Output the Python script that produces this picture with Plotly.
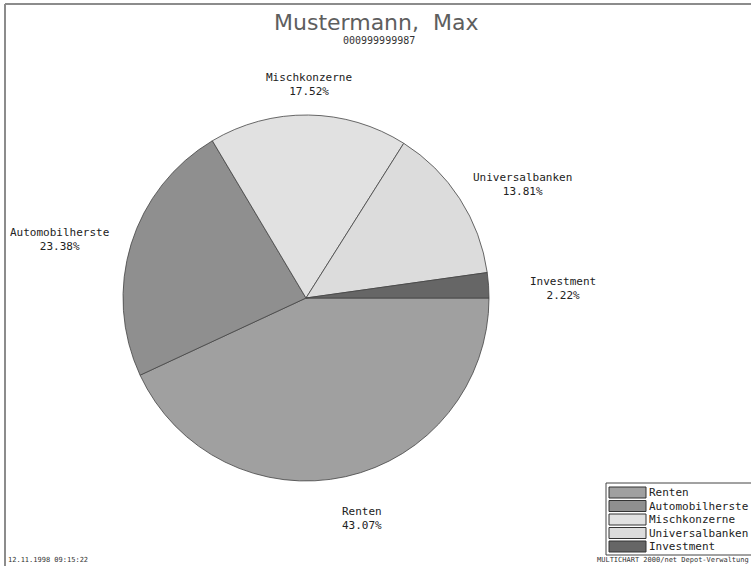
import math
import plotly.graph_objects as go

# ---------------------------------------------
# Data
# ---------------------------------------------
labels = ["Renten", "Automobilherste", "Mischkonzerne", "Universalbanken", "Investment"]
percents = [43.07, 23.38, 17.52, 13.81, 2.22]
colors = ["#a0a0a0", "#8f8f8f", "#e1e1e1", "#dcdcdc", "#666666"]

title_text = "Mustermann,  Max"
subtitle_text = "000999999987"
timestamp_text = "12.11.1998 09:15:22"
footer_text = "MULTICHART 2000/net Depot-Verwaltung"

W, H = 751, 566
cx, cy, r = 306, 298, 183
mono = "DejaVu Sans Mono"


def px(x):
    return x / W


def py(y):
    return 1 - y / H


fig = go.Figure()

fig.add_trace(
    go.Pie(
        labels=labels,
        values=percents,
        sort=False,
        direction="clockwise",
        rotation=90,
        textinfo="none",
        hoverinfo="label+percent",
        showlegend=False,
        marker=dict(colors=colors, line=dict(color="#444444", width=0.8)),
        domain=dict(x=[px(cx - r), px(cx + r)], y=[py(cy + r), py(cy - r)]),
    )
)

# -----------------------------------------
# slice labels on an ellipse at each mid angle
# -----------------------------------------
annotations = []
shapes = []
total = sum(percents)
start = 0.0
for lab, val in zip(labels, percents):
    mid = math.radians((start + val / 2) / total * 360)
    start += val
    lx = cx + 258 * math.cos(mid)
    ly = cy + 6 + 220 * math.sin(mid)
    annotations.append(
        dict(
            x=px(lx), y=py(ly), xref="paper", yref="paper",
            text=f"{lab}<br>{val:.2f}%", showarrow=False,
            font=dict(family=mono, size=11, color="#222222"),
            xanchor="center", yanchor="middle",
        )
    )

# -----------------------------------------
# legend box drawn by hand (wide swatches, tight rows)
# -----------------------------------------
leg_x, leg_y, row = 606, 483, 13.5
shapes.append(dict(type="rect", xref="paper", yref="paper",
                   x0=px(leg_x), x1=px(W + 10), y0=py(leg_y + 72), y1=py(leg_y),
                   line=dict(color="#444444", width=1), fillcolor="white"))
for i, (lab, col) in enumerate(zip(labels, colors)):
    top = leg_y + 4 + i * row
    shapes.append(dict(type="rect", xref="paper", yref="paper",
                       x0=px(leg_x + 3), x1=px(leg_x + 40), y0=py(top + 11), y1=py(top),
                       line=dict(color="#333333", width=1), fillcolor=col))
    annotations.append(dict(x=px(leg_x + 41), y=py(top + 5.5), xref="paper", yref="paper",
                            text=lab, showarrow=False, xanchor="left", yanchor="middle",
                            font=dict(family=mono, size=11, color="#222222")))

# frame lines top and left
shapes += [
    dict(type="line", xref="paper", yref="paper", x0=px(5), x1=1, y0=py(4), y1=py(4),
         line=dict(color="#8c8c8c", width=2)),
    dict(type="line", xref="paper", yref="paper", x0=px(5), x1=px(5), y0=0, y1=py(4),
         line=dict(color="#8c8c8c", width=2)),
]

annotations += [
    dict(x=px(376), y=py(22), xref="paper", yref="paper", text=title_text,
         showarrow=False, font=dict(family="DejaVu Sans", size=22, color="#5e5e5e"),
         xanchor="center", yanchor="middle"),
    dict(x=px(379), y=py(41), xref="paper", yref="paper", text=subtitle_text,
         showarrow=False, font=dict(family=mono, size=10, color="#333333"),
         xanchor="center", yanchor="middle"),
    dict(x=px(6), y=py(560), xref="paper", yref="paper", text=timestamp_text,
         showarrow=False, font=dict(family=mono, size=7, color="#333333"),
         xanchor="left", yanchor="middle"),
    dict(x=1, y=py(560), xref="paper", yref="paper", text=footer_text,
         showarrow=False, font=dict(family=mono, size=7, color="#333333"),
         xanchor="right", yanchor="middle"),
]

fig.update_layout(
    width=W,
    height=H,
    margin=dict(l=0, r=0, t=0, b=0),
    paper_bgcolor="white",
    plot_bgcolor="white",
    annotations=annotations,
    shapes=shapes,
    showlegend=False,
)

fig.write_html(
    "out.html",
    config={"displayModeBar": False},
    post_script="document.body.style.margin='0px';",
)
